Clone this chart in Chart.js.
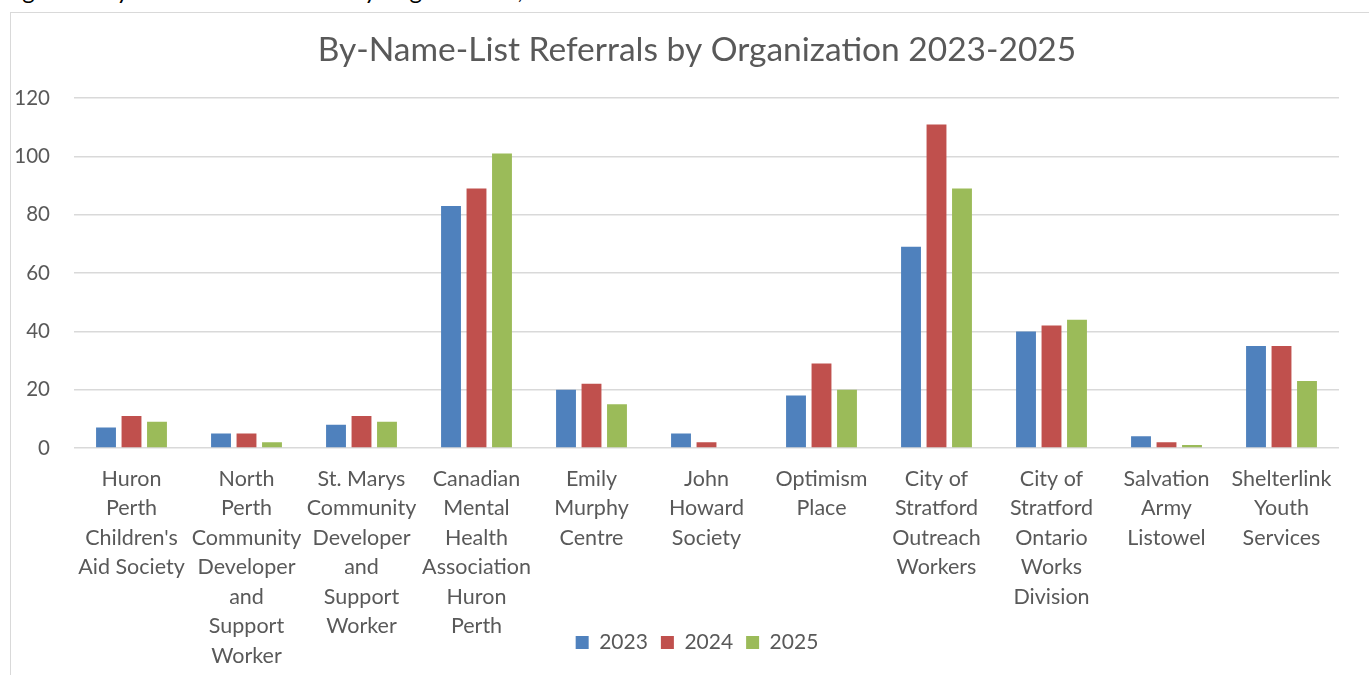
<!DOCTYPE html>
<html>
<head>
<meta charset="utf-8">
<script src="https://cdn.jsdelivr.net/npm/chart.js@4"></script>
<style>
  body { margin: 0; background: #fff; overflow: hidden; }
  #caption { position: absolute; left: 3px; top: -25px; font: 24px Lato, sans-serif; color: #000; white-space: nowrap; }
  #frame { position: absolute; left: 10px; top: 12px; width: 1400px; height: 700px; border-left: 1.5px solid #d9d9d9; border-top: 1.5px solid #d9d9d9; }
  #wrap { position: absolute; left: 11px; top: 13px; width: 1372px; height: 662px; }
</style>
</head>
<body>
<div id="caption">Figure 4: By-Name-List Referrals by Organization, 2023-2025</div>
<div id="frame"></div>
<div id="wrap"><canvas id="referralChart"></canvas></div>
<script>
// By-Name-List referrals per organization
const organizations = [
  ['Huron', 'Perth', "Children's", 'Aid Society'],
  ['North', 'Perth', 'Community', 'Developer', 'and', 'Support', 'Worker'],
  ['St. Marys', 'Community', 'Developer', 'and', 'Support', 'Worker'],
  ['Canadian', 'Mental', 'Health', 'Association', 'Huron', 'Perth'],
  ['Emily', 'Murphy', 'Centre'],
  ['John', 'Howard', 'Society'],
  ['Optimism', 'Place'],
  ['City of', 'Stratford', 'Outreach', 'Workers'],
  ['City of', 'Stratford', 'Ontario', 'Works', 'Division'],
  ['Salvation', 'Army', 'Listowel'],
  ['Shelterlink', 'Youth', 'Services']
];
const referrals2023 = [7, 5, 8, 83, 20, 5, 18, 69, 40, 4, 35];
const referrals2024 = [11, 5, 11, 89, 22, 2, 29, 111, 42, 2, 35];
const referrals2025 = [9, 2, 9, 101, 15, 0, 20, 89, 44, 1, 23];

const textColor = '#595959';
const fontFamily = 'Lato, "Open Sans", sans-serif';
const noClip = () => undefined;

const ctx = document.getElementById('referralChart').getContext('2d');
new Chart(ctx, {
  type: 'bar',
  data: {
    labels: organizations,
    datasets: [
      { label: '2023', data: referrals2023, backgroundColor: '#4f81bd' },
      { label: '2024', data: referrals2024, backgroundColor: '#c0504d' },
      { label: '2025', data: referrals2025, backgroundColor: '#9bbb59' }
    ]
  },
  options: {
    responsive: true,
    maintainAspectRatio: false,
    animation: false,
    categoryPercentage: 0.665,
    barPercentage: 0.78,
    layout: { padding: { left: 44, right: 44, top: 0, bottom: 12 } },
    scales: {
      x: {
        grid: { display: false },
        border: { display: false },
        ticks: {
          autoSkip: false,
          maxRotation: 0,
          minRotation: 0,
          padding: 8,
          color: textColor,
          font: { family: fontFamily, size: 21.5, lineHeight: 1.372 }
        },
        afterFit(scale) {
          // long labels run down beside the legend, so don't clip them to the axis box
          scale.height = 171;
          scale._computeLabelArea = noClip;
        }
      },
      y: {
        min: 0,
        max: 120,
        grid: { color: '#d9d9d9', lineWidth: 1.5, drawTicks: false },
        border: { display: false },
        ticks: {
          stepSize: 20,
          padding: 24,
          color: textColor,
          font: { family: fontFamily, size: 20.5 }
        },
        afterFit(scale) {
          scale.width = 19;
          scale._computeLabelArea = noClip;
        }
      }
    },
    plugins: {
      title: {
        display: true,
        text: 'By-Name-List Referrals by Organization 2023-2025',
        color: textColor,
        font: { family: fontFamily, size: 33.5, weight: 'normal' },
        padding: { top: 17, bottom: 28 }
      },
      legend: {
        position: 'bottom',
        labels: {
          boxWidth: 13,
          boxHeight: 13,
          padding: 13,
          color: textColor,
          font: { family: fontFamily, size: 21 }
        }
      },
      tooltip: { enabled: false }
    }
  }
});
</script>
</body>
</html>
